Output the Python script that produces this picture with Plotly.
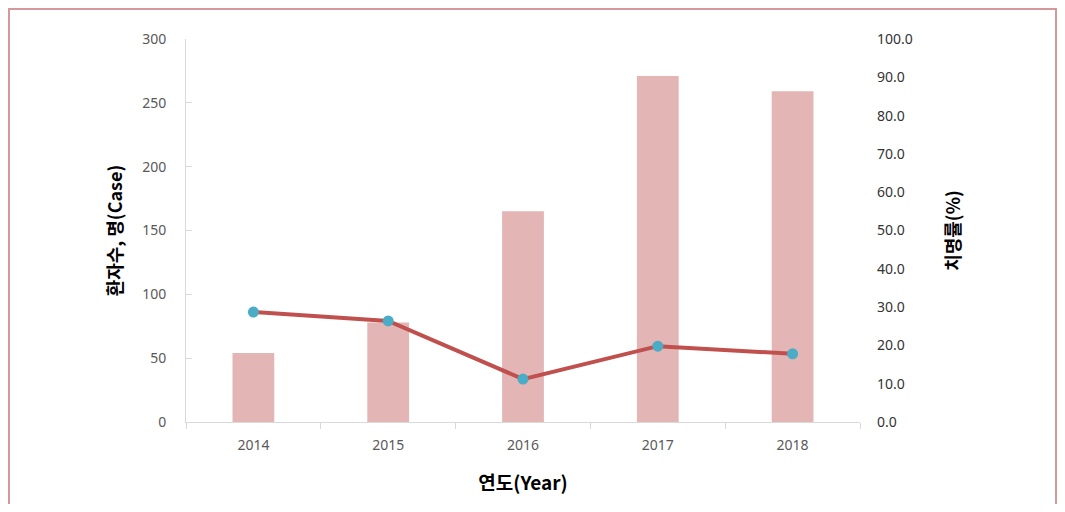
import plotly.graph_objects as go

years = ["2014", "2015", "2016", "2017", "2018"]
patients = [54, 78, 165, 271, 259]
fatality = [28.7, 26.4, 11.2, 19.8, 17.8]

fig = go.Figure()
fig.add_trace(go.Bar(
    x=years, y=patients,
    marker=dict(color="#E3B5B4", line=dict(width=0)),
    width=0.31,
    yaxis="y"
))
fig.add_trace(go.Scatter(
    x=years, y=fatality,
    mode="lines+markers",
    line=dict(color="#C0504D", width=4),
    marker=dict(color="#4BACC6", size=11),
    yaxis="y2"
))

tick_font = dict(family="Noto Sans, Open Sans, sans-serif", size=14, color="#595959")
title_font = dict(family="Noto Sans CJK KR", size=18, color="#000000")

# page body keeps an 8px margin, so the figure is sized to fit inside it
fig.update_layout(
    width=1049, height=496,
    showlegend=False,
    plot_bgcolor="white",
    paper_bgcolor="white",
    margin=dict(l=178, r=197, t=31, b=82),
    xaxis=dict(
        title=dict(text="<b>연도(Year)</b>", font=dict(family="Noto Sans CJK KR", size=19, color="#000000"), standoff=23),
        tickfont=tick_font,
        showline=True, linecolor="#D9D9D9", linewidth=1,
        ticks="outside", ticklen=6, tickcolor="#D9D9D9",
        tickson="boundaries",
        ticklabelstandoff=10,
        showgrid=False,
    ),
    yaxis=dict(
        title=dict(text="<b>환자수, 명(Case)</b>", font=title_font, standoff=14),
        range=[0, 300], dtick=50,
        tickfont=tick_font,
        showline=True, linecolor="#D9D9D9", linewidth=1,
        ticks="inside", ticklen=6, tickcolor="#D9D9D9",
        ticklabelstandoff=16,
        showgrid=False, zeroline=False,
    ),
    yaxis2=dict(
        title=dict(text="<b>치명률(%)</b>", font=title_font, standoff=35),
        range=[0, 100], dtick=10, tickformat=".1f",
        tickfont=dict(family="Noto Sans, Open Sans, sans-serif", size=14, color="#333333"),
        overlaying="y", side="right",
        showline=False, ticks="",
        ticklabelstandoff=16,
        showgrid=False, zeroline=False,
    ),
    shapes=[dict(
        type="rect", xref="paper", yref="paper",
        x0=-177 / 674, x1=870 / 674,
        y0=-0.3, y1=1 + 30 / 383,
        line=dict(color="#D4989A", width=2),
        fillcolor="rgba(0,0,0,0)",
        layer="below",
    )],
)

fig.write_html("out.html")
